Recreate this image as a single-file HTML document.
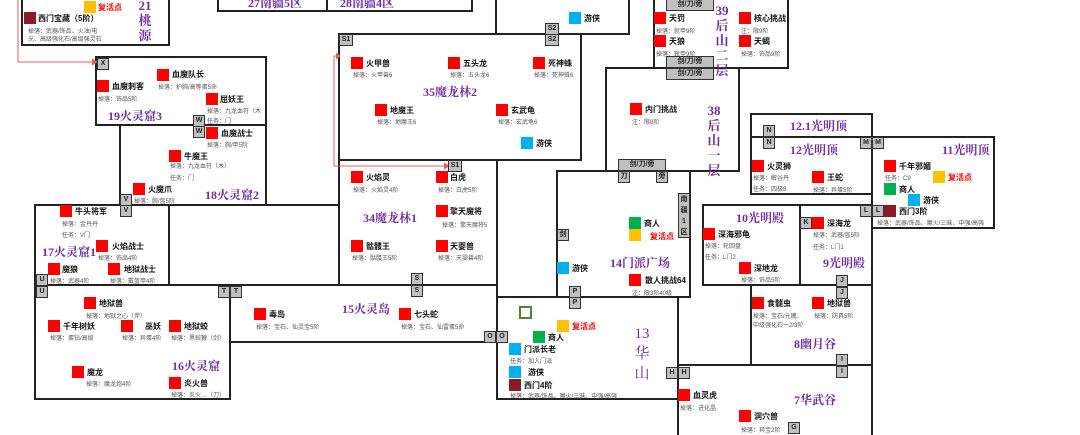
<!DOCTYPE html>
<html><head><meta charset="utf-8"><style>
html,body{margin:0;padding:0;background:#fff;}
#w{position:relative;width:1080px;height:435px;overflow:hidden;background:#fff;font-family:"Liberation Sans","Noto Sans CJK SC",sans-serif;}
svg{position:absolute;left:0;top:0}
.s{position:absolute;width:12px;height:12px}
.r{background:#f00}.y{background:#ffc000}.gr{background:#00b050}.b{background:#00b0f0}.dr{background:#8b1a2b}
.n{position:absolute;font-size:8px;font-weight:bold;color:#111;white-space:nowrap;line-height:10px}
.d{position:absolute;font-size:6px;color:#555;white-space:nowrap;line-height:8px}
.rt{color:#e00}
.t{position:absolute;font-family:"Liberation Serif","Noto Serif CJK SC",serif;font-size:12px;font-weight:bold;color:#7030a0;white-space:nowrap;line-height:14px}
.v{text-align:center;width:16px;line-height:15px;font-size:13px}
.g{position:absolute;background:#c0c0c0;border:1.5px solid #333;box-sizing:border-box;font-size:7px;font-weight:bold;color:#222;text-align:center;line-height:9px;height:12px;width:12px}
</style></head><body><div id="w">
<svg width="1080" height="435">
<g fill="none" stroke="#222" stroke-width="2">
<rect x="22" y="-5" width="147" height="50"/>
<rect x="218" y="-5" width="109" height="16"/>
<rect x="327" y="-5" width="145" height="16"/>
<rect x="496" y="-5" width="133" height="39"/>
<rect x="654" y="-5" width="134" height="73"/>
<rect x="339" y="34" width="242" height="126"/>
<rect x="339" y="160" width="158" height="125"/>
<rect x="606" y="68" width="133" height="103"/>
<rect x="96" y="57" width="170" height="68"/>
<rect x="120" y="125" width="146" height="80"/>
<rect x="35" y="205" width="134" height="80"/>
<rect x="169" y="205" width="170" height="80"/>
<rect x="35" y="285" width="195" height="114"/>
<rect x="230" y="285" width="267" height="57"/>
<rect x="557" y="171" width="133" height="126"/>
<rect x="497" y="297" width="181" height="102"/>
<line x1="497" y1="160" x2="497" y2="297"/>
<rect x="751" y="114" width="121" height="23"/>
<rect x="751" y="137" width="121" height="57"/>
<rect x="872" y="137" width="122" height="91"/>
<rect x="703" y="205" width="97" height="80"/>
<rect x="800" y="205" width="72" height="80"/>
<rect x="751" y="285" width="121" height="80"/>
<rect x="678" y="365" width="194" height="75"/>
</g>
<g fill="none" stroke="#e06060" stroke-width="1">
<path d="M18,0 V62 H92"/><path d="M92,59 L97,62 L92,65" fill="#e06060"/>
<path d="M339,56 H334 V166 H444"/><path d="M444,163 L449,166 L444,169" fill="#e06060"/>
<path d="M336,53 L340,56 L336,59" fill="#e06060"/>
</g>
<rect x="520" y="307" width="11" height="11" fill="none" stroke="#548235" stroke-width="2"/>
</svg>

<!-- 21 -->
<div class="s y" style="left:84px;top:1px"></div><div class="n rt" style="left:98px;top:3px">复活点</div>
<div class="t v" style="left:137px;top:-2px">21<br>桃<br>源</div>
<div class="s dr" style="left:24px;top:12px"></div><div class="n" style="left:38px;top:14px">西门宝藏（5阶）</div>
<div class="d" style="left:28px;top:28px">掉落：武器/饰品、火油/电</div>
<div class="d" style="left:28px;top:36px">光、高级强化石/高级强灵石</div>
<div class="t" style="left:248px;top:-4px">27南疆5区</div>
<div class="t" style="left:340px;top:-4px">28南疆4区</div>
<!-- 19 -->
<div class="g" style="left:97px;top:58px">X</div>
<div class="s r" style="left:157px;top:69px"></div><div class="n" style="left:172px;top:70px">血魔队长</div><div class="d" style="left:158px;top:84px">掉落：护腕/高等蛋5命</div>
<div class="s r" style="left:97px;top:80px"></div><div class="n" style="left:112px;top:82px">血魔刺客</div><div class="d" style="left:98px;top:96px">掉落：饰品5阶</div>
<div class="s r" style="left:206px;top:93px"></div><div class="n" style="left:220px;top:95px">屈妖王</div><div class="d" style="left:207px;top:108px">掉落：九龙血符（木</div><div class="d" style="left:207px;top:118px">任务：门</div>
<div class="t" style="left:108px;top:109px">19火灵窟3</div>
<div class="g" style="left:193px;top:115px">W</div><div class="g" style="left:193px;top:126px">W</div>
<!-- 18 -->
<div class="s r" style="left:206px;top:127px"></div><div class="n" style="left:221px;top:129px">血魔战士</div><div class="d" style="left:207px;top:142px">掉落：腕/甲5阶</div>
<div class="s r" style="left:169px;top:150px"></div><div class="n" style="left:184px;top:152px">牛魔王</div><div class="d" style="left:170px;top:163px">掉落：九龙血符（木）</div><div class="d" style="left:170px;top:175px">任务：门</div>
<div class="s r" style="left:133px;top:183px"></div><div class="n" style="left:148px;top:185px">火魔爪</div><div class="d" style="left:134px;top:198px">掉落：腕/盔5阶</div>
<div class="t" style="left:205px;top:188px">18火灵窟2</div>
<div class="g" style="left:120px;top:194px">V</div><div class="g" style="left:120px;top:205px">V</div>
<!-- 17 -->
<div class="s r" style="left:60px;top:205px"></div><div class="n" style="left:75px;top:207px">牛头将军</div><div class="d" style="left:62px;top:221px">掉落：金丹丹</div><div class="d" style="left:62px;top:232px">任务：V门</div>
<div class="t" style="left:42px;top:245px">17火灵窟1</div>
<div class="s r" style="left:96px;top:240px"></div><div class="n" style="left:112px;top:242px">火焰战士</div><div class="d" style="left:98px;top:255px">掉落：饰品4阶</div>
<div class="s r" style="left:48px;top:263px"></div><div class="n" style="left:62px;top:265px">魔狼</div><div class="d" style="left:50px;top:278px">掉落：武器4阶</div>
<div class="s r" style="left:108px;top:263px"></div><div class="n" style="left:124px;top:265px">地狱战士</div><div class="d" style="left:110px;top:278px">掉落：戴盔甲4阶</div>
<div class="g" style="left:36px;top:274px">U</div><div class="g" style="left:36px;top:286px">U</div>
<div class="g" style="left:218px;top:286px">T</div><div class="g" style="left:230px;top:286px">T</div>
<!-- 16 -->
<div class="s r" style="left:84px;top:297px"></div><div class="n" style="left:99px;top:299px">地狱兽</div><div class="d" style="left:86px;top:313px">掉落：地狱之心（斧）</div>
<div class="s r" style="left:48px;top:320px"></div><div class="n" style="left:63px;top:322px">千年树妖</div><div class="d" style="left:50px;top:335px">掉落：蛋钻/高级</div>
<div class="s r" style="left:121px;top:320px"></div><div class="n" style="left:145px;top:322px">巫妖</div><div class="d" style="left:122px;top:335px">掉落：异蛋4阶</div>
<div class="s r" style="left:169px;top:320px"></div><div class="n" style="left:184px;top:322px">地狱蛟</div><div class="d" style="left:171px;top:335px">掉落：黑蛟鞭（剑）</div>
<div class="s r" style="left:72px;top:366px"></div><div class="n" style="left:87px;top:368px">魔龙</div><div class="d" style="left:86px;top:381px">掉落：魔龙炮4阶</div>
<div class="t" style="left:172px;top:359px">16火灵窟</div>
<div class="s r" style="left:169px;top:377px"></div><div class="n" style="left:184px;top:379px">炎火兽</div><div class="d" style="left:171px;top:392px">掉落：炎火…（刀）</div>
<!-- 15 -->
<div class="s r" style="left:254px;top:308px"></div><div class="n" style="left:269px;top:310px">毒岛</div><div class="d" style="left:256px;top:324px">掉落：宝石、仙灵宝5阶</div>
<div class="t" style="left:342px;top:302px">15火灵岛</div>
<div class="s r" style="left:399px;top:308px"></div><div class="n" style="left:414px;top:310px">七头蛇</div><div class="d" style="left:401px;top:324px">掉落：宝石、仙雷蛋5命</div>
<div class="g" style="left:411px;top:273px">S</div><div class="g" style="left:411px;top:285px">S</div>
<!-- 34 -->
<div class="s r" style="left:351px;top:171px"></div><div class="n" style="left:366px;top:173px">火焰灵</div><div class="d" style="left:353px;top:187px">掉落：火焰灵4阶</div>
<div class="s r" style="left:436px;top:171px"></div><div class="n" style="left:450px;top:173px">白虎</div><div class="d" style="left:438px;top:187px">掉落：白虎5阶</div>
<div class="g" style="left:448px;top:160px;width:14px">S1</div>
<div class="t" style="left:363px;top:211px">34魔龙林1</div>
<div class="s r" style="left:436px;top:205px"></div><div class="n" style="left:450px;top:207px">擎天魔将</div><div class="d" style="left:442px;top:222px">掉落：擎天魔将5</div>
<div class="s r" style="left:351px;top:240px"></div><div class="n" style="left:366px;top:242px">骷髅王</div><div class="d" style="left:352px;top:255px">掉落：骷髅王5阶</div>
<div class="s r" style="left:436px;top:240px"></div><div class="n" style="left:450px;top:242px">天婴兽</div><div class="d" style="left:438px;top:255px">掉落：天婴兽4阶</div>
<!-- 35 -->
<div class="g" style="left:339px;top:34px;width:14px">S1</div>
<div class="g" style="left:545px;top:23px;width:14px">S2</div><div class="g" style="left:545px;top:34px;width:14px">S2</div>
<div class="s r" style="left:351px;top:57px"></div><div class="n" style="left:366px;top:59px">火甲兽</div><div class="d" style="left:353px;top:72px">掉落：火甲兽6</div>
<div class="s r" style="left:448px;top:57px"></div><div class="n" style="left:463px;top:59px">五头龙</div><div class="d" style="left:450px;top:72px">掉落：五头龙6</div>
<div class="s r" style="left:533px;top:57px"></div><div class="n" style="left:548px;top:59px">死神蛛</div><div class="d" style="left:534px;top:72px">掉落：死神蛛6</div>
<div class="t" style="left:423px;top:85px">35魔龙林2</div>
<div class="s r" style="left:375px;top:104px"></div><div class="n" style="left:390px;top:106px">地魔王</div><div class="d" style="left:377px;top:119px">掉落：地魔王6</div>
<div class="s r" style="left:496px;top:104px"></div><div class="n" style="left:511px;top:106px">玄武龟</div><div class="d" style="left:498px;top:119px">掉落：玄武龟6</div>
<div class="s b" style="left:521px;top:137px"></div><div class="n" style="left:536px;top:139px">游侠</div>
<div class="s b" style="left:569px;top:12px"></div><div class="n" style="left:584px;top:14px">游侠</div>
<!-- 39 -->
<div class="g" style="left:666px;top:-1px;width:48px">剑/刀/旁</div>
<div class="s r" style="left:654px;top:12px"></div><div class="n" style="left:669px;top:14px">天罚</div><div class="d" style="left:656px;top:28px">掉落：就甲9阶</div>
<div class="s r" style="left:654px;top:35px"></div><div class="n" style="left:669px;top:37px">天狼</div><div class="d" style="left:656px;top:51px">掉落：靴甲9阶</div>
<div class="g" style="left:666px;top:56px;width:48px">剑/刀/旁</div><div class="g" style="left:666px;top:68px;width:48px">剑/刀/旁</div>
<div class="t v" style="left:714px;top:3px">39<br>后<br>山<br>二<br>层</div>
<div class="s r" style="left:739px;top:12px"></div><div class="n" style="left:754px;top:14px">核心挑战</div><div class="d" style="left:741px;top:28px">注：限9阶</div>
<div class="s r" style="left:739px;top:35px"></div><div class="n" style="left:754px;top:37px">天蝎</div><div class="d" style="left:741px;top:51px">掉落：饰品9阶</div>
<!-- 38 -->
<div class="s r" style="left:630px;top:103px"></div><div class="n" style="left:645px;top:105px">内门挑战</div><div class="d" style="left:632px;top:119px">注：限8阶</div>
<div class="t v" style="left:706px;top:103px">38<br>后<br>山<br>一<br>层</div>
<!-- 14 -->
<div class="g" style="left:618px;top:159px;width:48px">剑/刀/旁</div>
<div class="g" style="left:618px;top:171px">刀</div><div class="g" style="left:656px;top:171px">旁</div>
<div class="g" style="left:678px;top:193px;height:45px;line-height:11px">南<br>疆<br>1<br>区</div>
<div class="g" style="left:557px;top:229px">剑</div>
<div class="s gr" style="left:629px;top:217px"></div><div class="n" style="left:644px;top:219px">商人</div>
<div class="s y" style="left:629px;top:229px"></div><div class="n rt" style="left:650px;top:232px">复活点</div>
<div class="s b" style="left:557px;top:262px"></div><div class="n" style="left:572px;top:264px">游侠</div>
<div class="t" style="left:610px;top:256px">14门派广场</div>
<div class="s r" style="left:629px;top:274px"></div><div class="n" style="left:645px;top:276px">散人挑战64</div><div class="d" style="left:632px;top:290px">注：限3阶40级</div>
<div class="g" style="left:569px;top:286px">P</div><div class="g" style="left:569px;top:297px">P</div>
<!-- 13 -->
<div class="g" style="left:484px;top:331px">O</div><div class="g" style="left:496px;top:331px">O</div>
<div class="s y" style="left:557px;top:320px"></div><div class="n rt" style="left:572px;top:322px">复活点</div>
<div class="s gr" style="left:533px;top:331px"></div><div class="n" style="left:548px;top:333px">商人</div>
<div class="s b" style="left:509px;top:343px"></div><div class="n" style="left:524px;top:345px">门派长老</div><div class="d" style="left:510px;top:358px">任务：加入门派</div>
<div class="s b" style="left:509px;top:366px"></div><div class="n" style="left:528px;top:368px">游侠</div>
<div class="s dr" style="left:509px;top:379px"></div><div class="n" style="left:524px;top:381px">西门4阶</div>
<div class="d" style="left:510px;top:393px">掉落：武器/饰品、魔火/三昧、中强/高强</div>
<div class="t v" style="left:634px;top:324px;font-size:15px;line-height:20px;font-weight:normal">13<br>华<br>山</div>
<div class="g" style="left:666px;top:367px">H</div><div class="g" style="left:678px;top:367px">H</div>
<!-- 12 / 11 -->
<div class="t" style="left:790px;top:119px">12.1光明顶</div>
<div class="g" style="left:763px;top:125px">N</div><div class="g" style="left:763px;top:137px">N</div>
<div class="t" style="left:790px;top:143px">12光明顶</div>
<div class="s r" style="left:752px;top:160px"></div><div class="n" style="left:767px;top:162px">火灵狮</div><div class="d" style="left:753px;top:175px">掉落：解谷丹</div><div class="d" style="left:753px;top:186px">任务：四极8</div>
<div class="s r" style="left:812px;top:171px"></div><div class="n" style="left:827px;top:173px">王蛇</div><div class="d" style="left:813px;top:187px">掉落：异蛋5阶</div>
<div class="g" style="left:860px;top:137px">M</div><div class="g" style="left:872px;top:137px">M</div>
<div class="t" style="left:942px;top:143px">11光明顶</div>
<div class="s r" style="left:884px;top:160px"></div><div class="n" style="left:899px;top:162px">千年邪媚</div><div class="d" style="left:885px;top:175px">任务：C9</div>
<div class="s y" style="left:933px;top:171px"></div><div class="n rt" style="left:948px;top:173px">复活点</div>
<div class="s gr" style="left:884px;top:183px"></div><div class="n" style="left:899px;top:185px">商人</div>
<div class="s b" style="left:908px;top:194px"></div><div class="n" style="left:923px;top:196px">游侠</div>
<div class="g" style="left:860px;top:205px">L</div><div class="g" style="left:872px;top:205px">L</div>
<div class="s dr" style="left:884px;top:205px"></div><div class="n" style="left:899px;top:207px">西门3阶</div>
<div class="d" style="left:877px;top:220px">掉落：武器/饰品、魔火/三昧、中强/高强</div>
<!-- 10/9 -->
<div class="t" style="left:736px;top:211px">10光明殿</div>
<div class="s r" style="left:703px;top:228px"></div><div class="n" style="left:718px;top:230px">深海邪龟</div><div class="d" style="left:705px;top:243px">掉落：轮回盘</div><div class="d" style="left:705px;top:254px">任务：L门2</div>
<div class="s r" style="left:739px;top:262px"></div><div class="n" style="left:754px;top:264px">深地龙</div><div class="d" style="left:741px;top:277px">掉落：饰品5阶</div>
<div class="g" style="left:800px;top:217px">K</div>
<div class="s r" style="left:812px;top:217px"></div><div class="n" style="left:827px;top:219px">深海龙</div><div class="d" style="left:813px;top:232px">掉落：武器/盔5阶</div><div class="d" style="left:813px;top:244px">任务：L门1</div>
<div class="t" style="left:823px;top:256px">9光明殿</div>
<div class="g" style="left:836px;top:275px">J</div><div class="g" style="left:836px;top:287px">J</div>
<!-- 8 -->
<div class="s r" style="left:752px;top:297px"></div><div class="n" style="left:767px;top:299px">食髓虫</div><div class="d" style="left:753px;top:313px">掉落：宝石/元魄、</div><div class="d" style="left:753px;top:322px">中级强化石一2/3阶</div>
<div class="s r" style="left:812px;top:297px"></div><div class="n" style="left:827px;top:299px">地狱兽</div><div class="d" style="left:814px;top:313px">掉落：防具5阶</div>
<div class="t" style="left:794px;top:337px">8幽月谷</div>
<div class="g" style="left:836px;top:354px">I</div><div class="g" style="left:836px;top:366px">I</div>
<!-- 7 -->
<div class="s r" style="left:678px;top:389px"></div><div class="n" style="left:693px;top:391px">血灵虎</div><div class="d" style="left:680px;top:405px">掉落：进化晶</div>
<div class="t" style="left:794px;top:393px">7华武谷</div>
<div class="s r" style="left:739px;top:410px"></div><div class="n" style="left:754px;top:412px">洞穴兽</div><div class="d" style="left:741px;top:427px">掉落：异宝2阶</div>
<div class="g" style="left:788px;top:422px">G</div>
</div></body></html>
